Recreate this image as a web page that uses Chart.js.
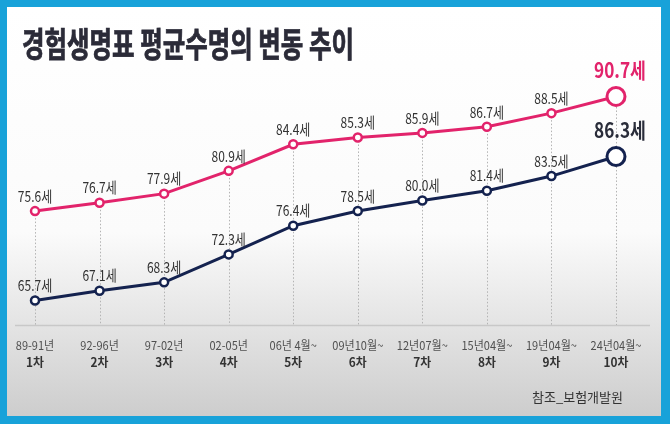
<!DOCTYPE html>
<html>
<head>
<meta charset="utf-8">
<script src="https://cdn.jsdelivr.net/npm/chart.js@4"></script>
<style>
  html, body { margin: 0; padding: 0; }
  body { width: 670px; height: 424px; background: #18a2d9; position: relative; overflow: hidden; }
  #card {
    position: absolute; left: 7px; top: 7px; width: 654px; height: 409px;
    background: linear-gradient(to bottom, #ffffff 0%, #fbfbfb 55%, #cdcdcd 100%);
  }
  #title {
    position: absolute; left: 15px; top: 17px; margin: 0;
    font: 700 34px/38px "Noto Sans CJK KR", sans-serif; color: #2b2b38;
    -webkit-text-stroke: 0.8px #2b2b38;
    white-space: nowrap; transform: scaleX(0.72); transform-origin: left center;
  }
  #source {
    position: absolute; left: 525px; top: 380px;
    font: 400 13px/20px "Noto Sans CJK KR", sans-serif; color: #333;
    white-space: nowrap;
  }
  #wrap { position: absolute; left: 0; top: 0; width: 654px; height: 409px; }
</style>
</head>
<body>
<div id="card">
  <div id="wrap"><canvas id="lifeChart"></canvas></div>
  <h1 id="title">경험생명표 평균수명의 변동 추이</h1>
  <div id="source">참조_보험개발원</div>
</div>
<script>
// 경험생명표 평균수명 (세)
const periodLabels = ["89-91년", "92-96년", "97-02년", "02-05년", "06년 4월~", "09년10월~", "12년07월~", "15년04월~", "19년04월~", "24년04월~"];
const roundLabels = ["1차", "2차", "3차", "4차", "5차", "6차", "7차", "8차", "9차", "10차"];
const femaleValues = [75.6, 76.7, 77.9, 80.9, 84.4, 85.3, 85.9, 86.7, 88.5, 90.7];
const maleValues = [65.7, 67.1, 68.3, 72.3, 76.4, 78.5, 80.0, 81.4, 83.5, 86.3];

const PINK = "#e2236b";
const NAVY = "#14224f";
const FONT = '"Noto Sans CJK KR", sans-serif';

const last = periodLabels.length - 1;
const radii = periodLabels.map((_, i) => (i === last ? 9 : 4));
const borders = periodLabels.map((_, i) => (i === last ? 3 : 2.5));

function squeezeText(ctx, text, x, y, font, color, sx) {
  ctx.save();
  ctx.translate(x, y);
  ctx.scale(sx, 1);
  ctx.font = font;
  ctx.fillStyle = color;
  ctx.textAlign = "center";
  ctx.textBaseline = "middle";
  ctx.fillText(text, 0, 0);
  ctx.restore();
}

const overlay = {
  id: "overlay",
  beforeDatasetsDraw(chart) {
    const ctx = chart.ctx;
    const base = chart.chartArea.bottom;
    ctx.save();
    // baseline
    ctx.strokeStyle = "#c8c8c8";
    ctx.lineWidth = 1.5;
    ctx.beginPath();
    ctx.moveTo(8, base + 0.5);
    ctx.lineTo(643, base + 0.5);
    ctx.stroke();
    // dotted guides from the top series down
    ctx.strokeStyle = "#b3b3b3";
    ctx.lineWidth = 1;
    ctx.setLineDash([1.5, 2]);
    chart.getDatasetMeta(0).data.forEach((p) => {
      const x = Math.round(p.x) + 0.5;
      ctx.beginPath();
      ctx.moveTo(x, p.y);
      ctx.lineTo(x, base);
      ctx.stroke();
    });
    ctx.restore();
  },
  afterDatasetsDraw(chart) {
    const ctx = chart.ctx;
    chart.data.datasets.forEach((ds, di) => {
      chart.getDatasetMeta(di).data.forEach((p, i) => {
        const txt = ds.data[i].toFixed(1) + "세";
        if (i === last) {
          const col = di === 0 ? PINK : "#2a2d3a";
          squeezeText(ctx, txt, p.x + 4, p.y - 26, "700 21px " + FONT, col, 0.82);
        } else {
          squeezeText(ctx, txt, p.x, p.y - 15, "400 15px " + FONT, "#333", 0.8);
        }
      });
    });
    // category labels
    const xs = chart.scales.x;
    const base = chart.chartArea.bottom;
    periodLabels.forEach((lab, i) => {
      const x = xs.getPixelForValue(i);
      squeezeText(ctx, lab, x, base + 20, "400 12px " + FONT, "#505050", 0.92);
      squeezeText(ctx, roundLabels[i], x, base + 37, "700 12.5px " + FONT, "#333", 0.95);
    });
  },
};

new Chart(document.getElementById("lifeChart"), {
  type: "line",
  data: {
    labels: periodLabels,
    datasets: [
      {
        label: "여자",
        data: femaleValues,
        yAxisID: "y",
        borderColor: PINK,
        borderWidth: 3,
        pointBackgroundColor: "#fff",
        pointBorderColor: PINK,
        pointRadius: radii,
        pointBorderWidth: borders,
        tension: 0,
        clip: false,
      },
      {
        label: "남자",
        data: maleValues,
        yAxisID: "y2",
        borderColor: NAVY,
        borderWidth: 3,
        pointBackgroundColor: "#fff",
        pointBorderColor: NAVY,
        pointRadius: radii,
        pointBorderWidth: borders,
        tension: 0,
        clip: false,
      },
    ],
  },
  options: {
    responsive: true,
    maintainAspectRatio: false,
    animation: false,
    layout: { padding: { left: 28, right: 45, top: 53, bottom: 91 } },
    plugins: { legend: { display: false }, tooltip: { enabled: false } },
    scales: {
      x: { display: false, offset: false },
      y: { display: false, min: 60.6, max: 95.5 },
      y2: { display: false, min: 62.2, max: 100.1 },
    },
  },
  plugins: [overlay],
});
</script>
</body>
</html>
